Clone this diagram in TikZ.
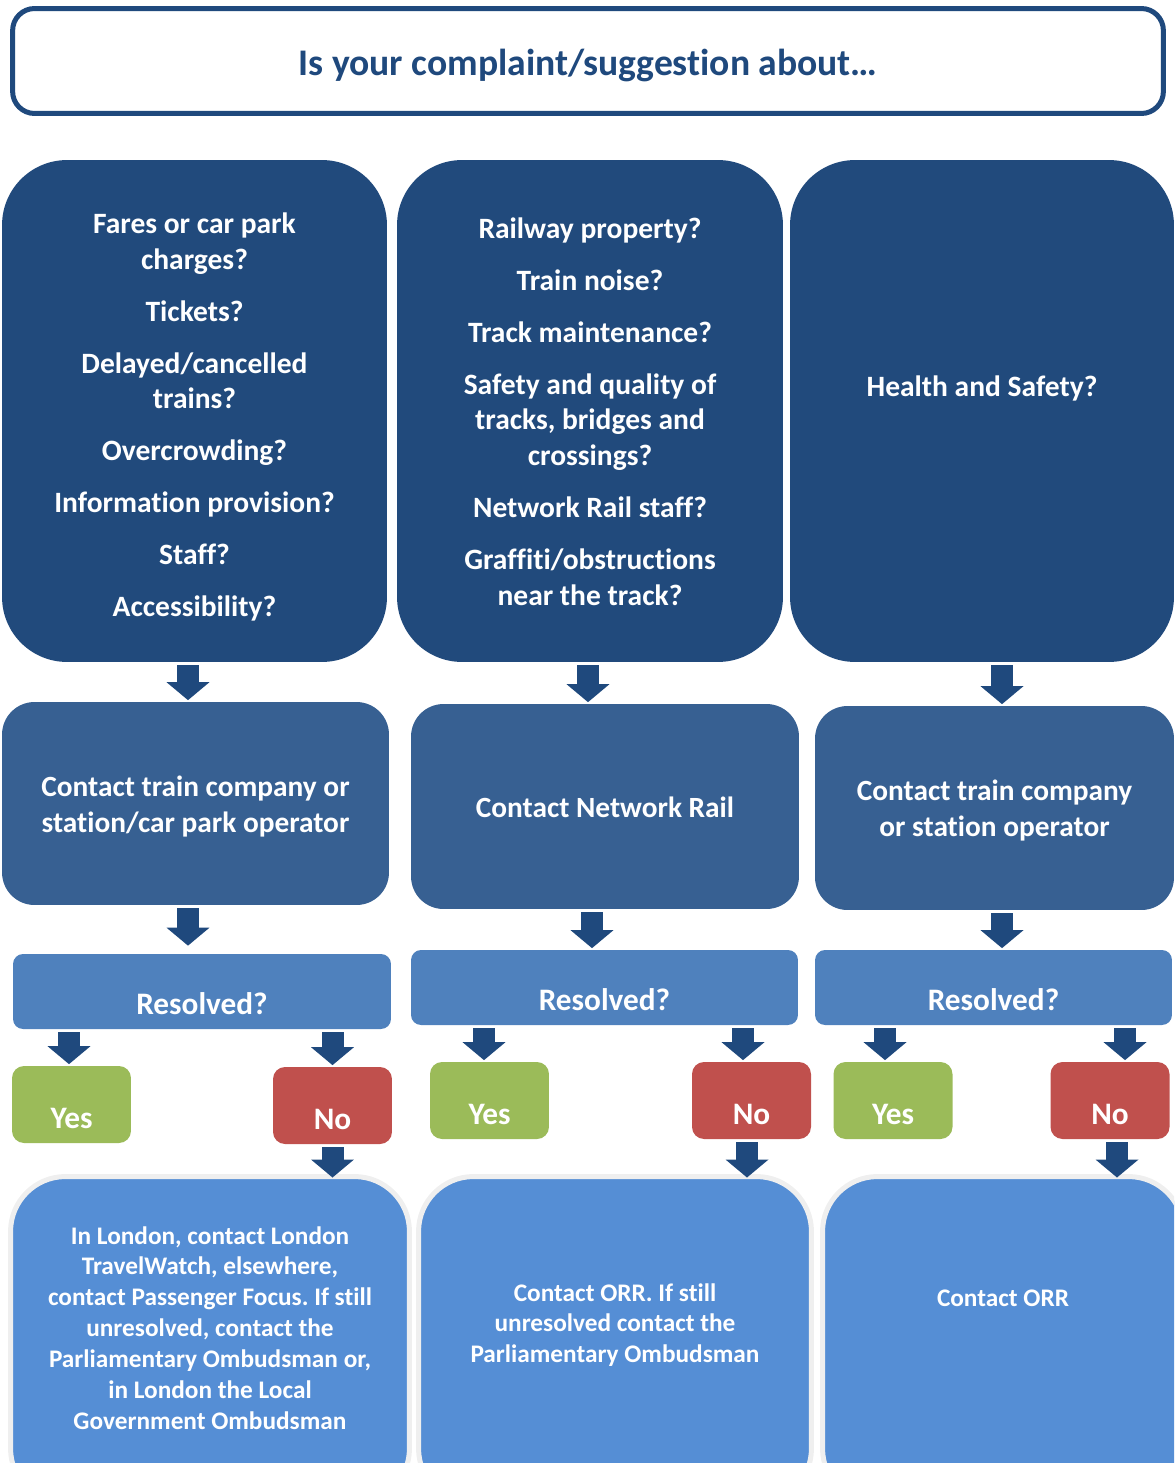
\documentclass[tikz,border=0pt]{standalone}
\usepackage{fontspec}
\setmainfont{Carlito}[Ligatures=CommonOff]
\usetikzlibrary{arrows.meta,calc}
\definecolor{navy}{HTML}{1F497D}
\definecolor{topblue}{HTML}{214A7C}
\definecolor{midblue}{HTML}{376092}
\definecolor{resblue}{HTML}{4F81BD}
\definecolor{yesgreen}{HTML}{9BBB59}
\definecolor{nored}{HTML}{C0504D}
\definecolor{finblue}{HTML}{558ED5}
\definecolor{finedge}{HTML}{EFEFEF}
\frenchspacing
\begin{document}
\begin{tikzpicture}[x=0.02cm, y=-0.02cm,
    question/.style={draw=navy, line width=0.1cm, fill=white, rounded corners=0.44cm, minimum width=23.02cm, minimum height=2.1cm, text=navy, text height=0.7cm, text depth=0.1cm, font=\fontsize{21.4}{25}\selectfont\bfseries},
    topic/.style={fill=topblue, rounded corners=1.3cm, minimum height=10.04cm, text=white, align=flush center, text width=7.2cm, text height=0pt, font=\fontsize{16.8}{20.4}\selectfont\bfseries},
    contact/.style={fill=midblue, rounded corners=0.65cm, text=white, align=flush center, text height=0pt, font=\fontsize{16.7}{20.7}\selectfont\bfseries},
    resolved/.style={fill=resblue, rounded corners=0.2cm, minimum height=1.5cm, text=white, text height=0.9cm, text depth=0pt, font=\fontsize{17.8}{21}\selectfont\bfseries},
    answer/.style={rounded corners=0.24cm, minimum width=2.38cm, minimum height=1.54cm, text=white, text height=0.94cm, text depth=0pt, font=\fontsize{17.8}{21}\selectfont\bfseries},
    yesbox/.style={answer, fill=yesgreen},
    nobox/.style={answer, fill=nored},
    final/.style={fill=finblue, draw=finedge, line width=0.1cm, rounded corners=1.1cm, minimum height=6.54cm, text=white, align=flush center, text height=0pt, font=\fontsize{14.4}{17.6}\selectfont\bfseries},
    blk/.style={draw=navy, line width=0.44cm, -{Triangle[width=0.84cm,length=0.36cm]}, shorten <=0.06cm, shorten >=0.03cm}]
    \useasboundingbox (0,0) rectangle (1174,1463);
    \clip (0,0) rectangle (1174,1463);

    \node[question] (q) at (588,61) {Is your complaint/suggestion about…};

    % what it is about
    \node[topic, minimum width=7.7cm, text depth=7.1cm] (top1) at (194.5,411) {Fares or car park\\charges?\\[0.32cm]Tickets?\\[0.32cm]Delayed/cancelled\\trains?\\[0.32cm]Overcrowding?\\[0.32cm]Information provision?\\[0.32cm]Staff?\\[0.32cm]Accessibility?};
    \node[topic, minimum width=7.72cm, text depth=6.9cm] (top2) at (590,411) {Railway property?\\[0.32cm]Train noise?\\[0.32cm]Track maintenance?\\[0.32cm]Safety and quality of\\tracks, bridges and\\crossings?\\[0.32cm]Network Rail staff?\\[0.32cm]Graffiti/obstructions\\near the track?};
    \node[topic, minimum width=7.68cm, text depth=0.58cm] (top3) at (982,411) {Health and Safety?};

    % who to contact first
    \node[contact, minimum width=7.74cm, minimum height=4.06cm, text width=7.2cm, text depth=0.28cm] (mid1) at (195.5,803.5) {Contact train company or\\station/car park operator};
    \node[contact, minimum width=7.76cm, minimum height=4.1cm, text height=0.44cm, text depth=0pt] (mid2) at (605,806.5) {Contact Network Rail};
    \node[contact, minimum width=7.18cm, minimum height=4.08cm, text width=6.7cm, text depth=0.3cm] (mid3) at (994.5,808) {Contact train company\\or station operator};

    \node[resolved, minimum width=7.56cm] (res1) at (202,991.5) {Resolved?};
    \node[resolved, minimum width=7.74cm] (res2) at (604.5,987.5) {Resolved?};
    \node[resolved, minimum width=7.14cm] (res3) at (993.5,987.5) {Resolved?};

    \node[yesbox] (yes1) at (71.5,1104.5) {Yes};
    \node[nobox] (no1) at (332.5,1105.5) {No};
    \node[yesbox] (yes2) at (489.5,1100.5) {Yes};
    \node[nobox] (no2) at (751.5,1100.5) {No};
    \node[yesbox] (yes3) at (893,1100.5) {Yes};
    \node[nobox] (no3) at (1110,1100.5) {No};

    % next step if not resolved
    \node[final, minimum width=7.98cm, text width=7.4cm, text depth=3.84cm] (fin1) at (210,1340) {In London, contact London\\TravelWatch, elsewhere,\\contact Passenger Focus. If still\\unresolved, contact the\\Parliamentary Ombudsman or,\\in London the Local\\Government Ombudsman};
    \node[final, minimum width=7.86cm, text width=7.4cm, text depth=1.56cm] (fin2) at (615,1340) {Contact ORR. If still\\unresolved contact the\\Parliamentary Ombudsman};
    \node[final, minimum width=7.22cm, text width=6.8cm, text depth=1.36cm] (fin3) at (1003,1340) {Contact ORR};

    \draw[blk] ($(top1.south)+(-6.5,0)$) -- ($(top1.south |- mid1.north)+(-6.5,0)$);
    \draw[blk] ($(top2.south)+(-2,0)$) -- ($(top2.south |- mid2.north)+(-2,0)$);
    \draw[blk] ($(top3.south)+(20,0)$) -- ($(top3.south |- mid3.north)+(20,0)$);
    \draw[blk, shorten >=0.16cm] ($(mid1.south)+(-7.5,0)$) -- ($(mid1.south |- res1.north)+(-7.5,0)$);
    \draw[blk] ($(mid2.south)+(-13,0)$) -- ($(mid2.south |- res2.north)+(-13,0)$);
    \draw[blk] ($(mid3.south)+(7.5,0)$) -- ($(mid3.south |- res3.north)+(7.5,0)$);

    \draw[blk] ($(yes1.north |- res1.south)+(-2.5,0)$) -- ($(yes1.north)+(-2.5,0)$);
    \draw[blk] (no1.north |- res1.south) -- (no1.north);
    \draw[blk] ($(yes2.north |- res2.south)+(-5.5,0)$) -- ($(yes2.north)+(-5.5,0)$);
    \draw[blk] ($(no2.north |- res2.south)+(-8.5,0)$) -- ($(no2.north)+(-8.5,0)$);
    \draw[blk] ($(yes3.north |- res3.south)+(-8,0)$) -- ($(yes3.north)+(-8,0)$);
    \draw[blk] ($(no3.north |- res3.south)+(15,0)$) -- ($(no3.north)+(15,0)$);

    \draw[blk, shorten >=-0.07cm] (no1.south) -- (no1.south |- fin1.north);
    \draw[blk, shorten >=-0.07cm] ($(no2.south)+(-4.5,0)$) -- ($(no2.south |- fin2.north)+(-4.5,0)$);
    \draw[blk, shorten >=-0.07cm] ($(no3.south)+(7,0)$) -- ($(no3.south |- fin3.north)+(7,0)$);
\end{tikzpicture}
\end{document}
